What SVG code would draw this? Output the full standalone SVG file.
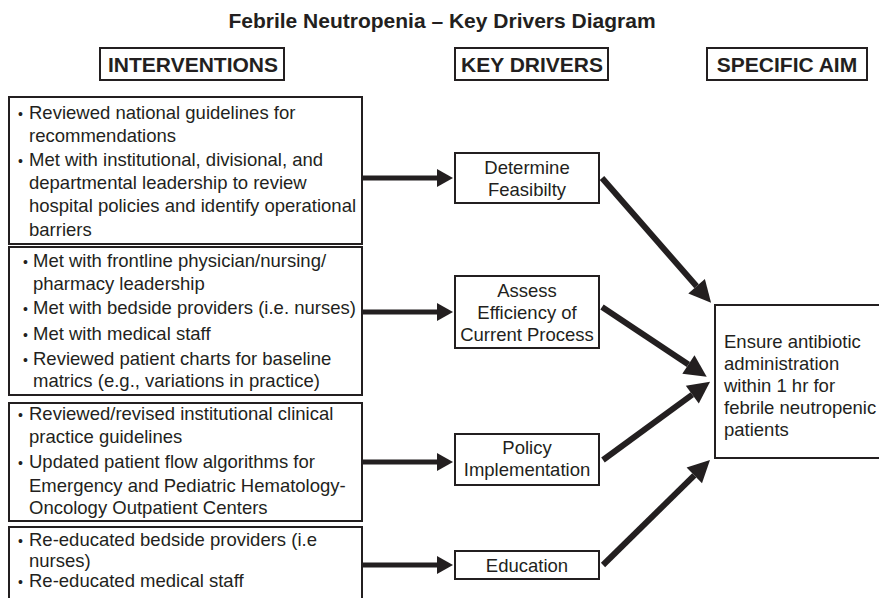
<svg xmlns="http://www.w3.org/2000/svg" width="879" height="598" viewBox="0 0 879 598">
<style>
  .bg{fill:#ffffff}
  .box{fill:#ffffff;stroke:#231f20;stroke-width:2}
  .t{font-family:"Liberation Sans",Arial,sans-serif;font-size:18.5px;fill:#231f20}
  .c{text-anchor:middle}
  .b{font-family:"Liberation Sans",Arial,sans-serif;font-weight:bold;fill:#231f20}
  .h{font-size:21px;text-anchor:middle}
  .bul{font-size:14px}
  .ha{stroke:#231f20;stroke-width:5;fill:none}
  .da{stroke:#231f20;stroke-width:6;fill:none}
</style>
<defs>
  <marker id="hh" markerUnits="userSpaceOnUse" markerWidth="16" markerHeight="18" refX="0" refY="9" orient="auto" overflow="visible">
    <path d="M0,0 L16,9 L0,18 z" fill="#231f20"/>
  </marker>
  <marker id="dh" markerUnits="userSpaceOnUse" markerWidth="22" markerHeight="22" refX="0" refY="11" orient="auto" overflow="visible">
    <path d="M0,0 L22,11 L0,22 z" fill="#231f20"/>
  </marker>
</defs>
<rect class="bg" x="0" y="0" width="879" height="598"/>

<text id="title" class="b" x="442" y="28" font-size="21" text-anchor="middle">Febrile Neutropenia – Key Drivers Diagram</text>

<g id="hdr-interventions">
  <rect class="box" x="100" y="48" width="184" height="32"/>
  <text class="b h" x="193" y="72">INTERVENTIONS</text>
</g>
<g id="hdr-keydrivers">
  <rect class="box" x="455" y="48" width="153" height="32"/>
  <text class="b h" x="532" y="72">KEY DRIVERS</text>
</g>
<g id="hdr-aim">
  <rect class="box" x="707" y="48" width="160" height="32"/>
  <text class="b h" x="787" y="72">SPECIFIC AIM</text>
</g>

<g id="int1">
  <rect class="box" x="9" y="97" width="353" height="147"/>
  <text class="t" y="119"><tspan class="bul" x="18">•</tspan><tspan x="29">Reviewed national guidelines for</tspan></text>
  <text class="t" x="29" y="142">recommendations</text>
  <text class="t" y="165.5"><tspan class="bul" x="18">•</tspan><tspan x="29">Met with institutional, divisional, and</tspan></text>
  <text class="t" x="29" y="189">departmental leadership to review</text>
  <text class="t" x="29" y="212">hospital policies and identify operational</text>
  <text class="t" x="29" y="235.5">barriers</text>
</g>

<g id="int2">
  <rect class="box" x="9" y="247" width="353" height="148"/>
  <text class="t" y="267"><tspan class="bul" x="23">•</tspan><tspan x="33">Met with frontline physician/nursing/</tspan></text>
  <text class="t" x="33" y="290">pharmacy leadership</text>
  <text class="t" y="314"><tspan class="bul" x="23">•</tspan><tspan x="33">Met with bedside providers (i.e. nurses)</tspan></text>
  <text class="t" y="340"><tspan class="bul" x="23">•</tspan><tspan x="33">Met with medical staff</tspan></text>
  <text class="t" y="365"><tspan class="bul" x="23">•</tspan><tspan x="33">Reviewed patient charts for baseline</tspan></text>
  <text class="t" x="33" y="387">matrics (e.g., variations in practice)</text>
</g>

<g id="int3">
  <rect class="box" x="9" y="403" width="353" height="118"/>
  <text class="t" y="420"><tspan class="bul" x="18">•</tspan><tspan x="29">Reviewed/revised institutional clinical</tspan></text>
  <text class="t" x="29" y="443">practice guidelines</text>
  <text class="t" y="468"><tspan class="bul" x="18">•</tspan><tspan x="29">Updated patient flow algorithms for</tspan></text>
  <text class="t" x="29" y="492">Emergency and Pediatric Hematology-</text>
  <text class="t" x="29" y="514">Oncology Outpatient Centers</text>
</g>

<g id="int4">
  <rect class="box" x="9" y="527" width="353" height="90"/>
  <text class="t" y="546"><tspan class="bul" x="18">•</tspan><tspan x="29">Re-educated bedside providers (i.e</tspan></text>
  <text class="t" x="29" y="566.5">nurses)</text>
  <text class="t" y="587"><tspan class="bul" x="18">•</tspan><tspan x="29">Re-educated medical staff</tspan></text>
</g>

<g id="kd1">
  <rect class="box" x="455" y="153" width="144" height="50"/>
  <text class="t c" x="527" y="174">Determine</text>
  <text class="t c" x="527" y="196">Feasibilty</text>
</g>
<g id="kd2">
  <rect class="box" x="455" y="276" width="144" height="72"/>
  <text class="t c" x="527" y="297">Assess</text>
  <text class="t c" x="527" y="319">Efficiency of</text>
  <text class="t c" x="527" y="341">Current Process</text>
</g>
<g id="kd3">
  <rect class="box" x="455" y="434" width="144" height="51"/>
  <text class="t c" x="527" y="454">Policy</text>
  <text class="t c" x="527" y="476">Implementation</text>
</g>
<g id="kd4">
  <rect class="box" x="455" y="551" width="144" height="28"/>
  <text class="t c" x="527" y="572">Education</text>
</g>

<g id="aim">
  <rect class="box" x="715" y="305" width="180" height="153"/>
  <text class="t" x="724" y="348">Ensure antibiotic</text>
  <text class="t" x="724" y="370">administration</text>
  <text class="t" x="724" y="392">within 1 hr for</text>
  <text class="t" x="724" y="414">febrile neutropenic</text>
  <text class="t" x="724" y="436">patients</text>
</g>

<g id="connectors">
  <line class="ha" x1="362" y1="178" x2="437" y2="178" marker-end="url(#hh)"/>
  <line class="ha" x1="362" y1="312" x2="437" y2="312" marker-end="url(#hh)"/>
  <line class="ha" x1="362" y1="462" x2="437" y2="462" marker-end="url(#hh)"/>
  <line class="ha" x1="362" y1="565" x2="437" y2="565" marker-end="url(#hh)"/>
  <line class="da" x1="602" y1="178" x2="696.6" y2="286.3" marker-end="url(#dh)"/>
  <line class="da" x1="602" y1="307" x2="688.4" y2="364.5" marker-end="url(#dh)"/>
  <line class="da" x1="603" y1="460" x2="692.3" y2="394.7" marker-end="url(#dh)"/>
  <line class="da" x1="603" y1="565" x2="694.3" y2="475.4" marker-end="url(#dh)"/>
</g>
</svg>
